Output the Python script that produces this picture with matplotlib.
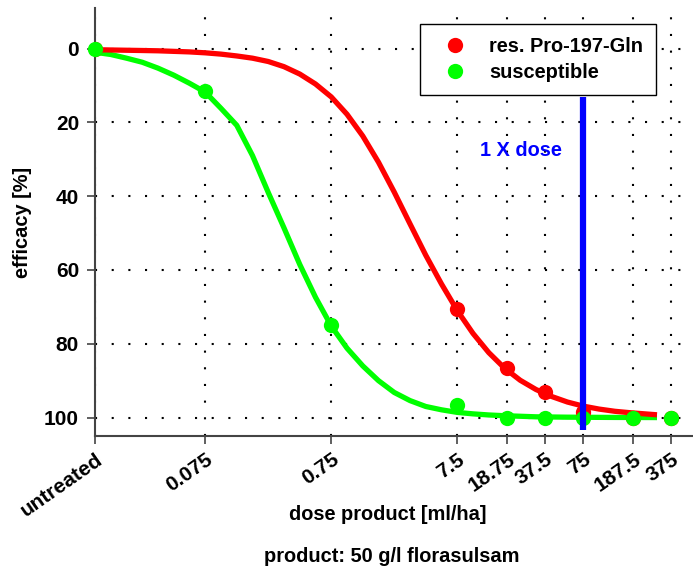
import numpy as np
import matplotlib
matplotlib.use("Agg")
import matplotlib.pyplot as plt
from matplotlib.lines import Line2D

plt.rcParams['font.family'] = ['Liberation Sans', 'DejaVu Sans']
plt.rcParams['font.weight'] = 'bold'

# ---- data ----
untreated_pos = 0.01
tick_doses = [untreated_pos, 0.075, 0.75, 7.5, 18.75, 37.5, 75, 187.5, 375]
tick_labels = ['untreated', '0.075', '0.75', '7.5', '18.75', '37.5', '75', '187.5', '375']
y_ticks = [0, 20, 40, 60, 80, 100]

# observed points
res_dose = [untreated_pos, 7.5, 18.75, 37.5, 75, 187.5, 375]
res_eff = [0, 70.5, 86.5, 93, 98.5, 100, 100]
sus_dose = [untreated_pos, 0.075, 0.75, 7.5, 18.75, 37.5, 75, 187.5, 375]
sus_eff = [0, 11.5, 75, 96.5, 100, 100, 100, 100, 100]

# fitted curves
curve_dose = [0.01, 0.01334, 0.01778, 0.02371, 0.03162, 0.04217, 0.05623, 0.075, 0.1,
              0.1334, 0.1778, 0.2371, 0.3162, 0.4217, 0.5623, 0.75, 1.0, 1.334, 1.778,
              2.371, 3.162, 4.217, 5.623, 7.5, 10, 13.34, 17.78, 23.71, 31.62, 42.17,
              56.23, 75, 100, 133.4, 177.8, 275]
res_curve_eff = [0.3, 0.38, 0.45, 0.52, 0.6, 0.75, 0.9, 1.15, 1.5,
                 2.0, 2.6, 3.5, 4.9, 6.9, 9.6, 13.1, 17.8, 23.7, 30.8,
                 38.9, 47.5, 56, 63.8, 71, 77.2, 82.4, 86.6, 89.9, 92.4, 94.3,
                 95.8, 96.9, 97.7, 98.3, 98.7, 99.2]
sus_curve_eff = [1.0, 1.6, 2.6, 3.7, 5.3, 7.2, 9.4, 11.8, 16.2,
                 20.8, 29, 39, 48.6, 58.5, 67.4, 75.2, 81.2, 86, 90,
                 93.2, 95.4, 97.0, 97.9, 98.6, 99.0, 99.3, 99.5, 99.65, 99.8, 99.85,
                 99.9, 99.92, 99.95, 99.97, 99.98, 100]

field_dose = 75
dose_line = [13, 103.5]

# ---- figure ----
fig = plt.figure(figsize=(6.93, 5.72), dpi=100)
ax = fig.add_axes([95/693, 1-436/572, 1-95/693, (436-8)/572])

ax.set_xscale('log')
ax.set_xlim(untreated_pos, 10**2.746)
ax.set_ylim(105, -11)

for x in tick_doses:
    ax.axvline(x, color='black', lw=1.5, ls=(0, (1, 7)), zorder=0)
for y in y_ticks:
    ax.axhline(y, color='black', lw=1.5, ls=(0, (1, 7)), zorder=0)

ax.plot(curve_dose, sus_curve_eff, color='#00ff00', lw=3.8, zorder=2)
ax.plot(curve_dose, res_curve_eff, color='#ff0000', lw=3.8, zorder=3)
ax.plot(res_dose, res_eff, 'o', color='#ff0000', ms=11, mec='none', zorder=4)
ax.plot(sus_dose, sus_eff, 'o', color='#00ff00', ms=11, mec='none', zorder=5, clip_on=False)
ax.plot([field_dose, field_dose], dose_line, color='#0000ff', lw=4.5, zorder=6, solid_capstyle='butt')
ax.text(24.2, 27.6, '1 X dose', color='#0000ff', fontsize=14.4, fontweight='bold',
        ha='center', va='center', zorder=7)

ax.set_xticks(tick_doses)
ax.set_xticklabels(tick_labels, rotation=35, ha='right', rotation_mode='anchor')
ax.xaxis.set_minor_locator(matplotlib.ticker.NullLocator())
ax.set_yticks(y_ticks)
ax.tick_params(axis='both', labelsize=15, length=6, width=1.2, color='#444444', direction='out')
ax.tick_params(axis='x', pad=4)
ax.tick_params(axis='y', pad=5.5)
for s in ['top', 'right']:
    ax.spines[s].set_visible(False)
for s in ['left', 'bottom']:
    ax.spines[s].set_color('#444444')
    ax.spines[s].set_linewidth(1.5)

ax.set_xlabel('dose product [ml/ha]', fontsize=14.4, fontweight='bold', va='center')
ax.xaxis.set_label_coords((388-95)/598, (436-515)/428)
ax.set_ylabel('efficacy [%]', fontsize=14.4, fontweight='bold', va='center')
ax.yaxis.set_label_coords((23-95)/598, 0.5)
fig.text(392/693, 1-557/572, 'product: 50 g/l florasulsam', fontsize=14.4, fontweight='bold',
         ha='center', va='center')

handles = [Line2D([], [], ls='none', marker='o', color='#ff0000', ms=11, mec='none'),
           Line2D([], [], ls='none', marker='o', color='#00ff00', ms=11, mec='none')]
leg = fig.legend(handles, ['res. Pro-197-Gln', 'susceptible'], loc='upper right',
                 bbox_to_anchor=(656/693, 1-24/572), borderaxespad=0, fancybox=False,
                 framealpha=1, edgecolor='black', prop={'size': 14.4, 'weight': 'bold'},
                 handlelength=2.2, handletextpad=0.6, labelspacing=0.35, borderpad=0.65)
leg.get_frame().set_linewidth(1.0)
leg.set_zorder(10)

fig.savefig('out.png', dpi=100)
